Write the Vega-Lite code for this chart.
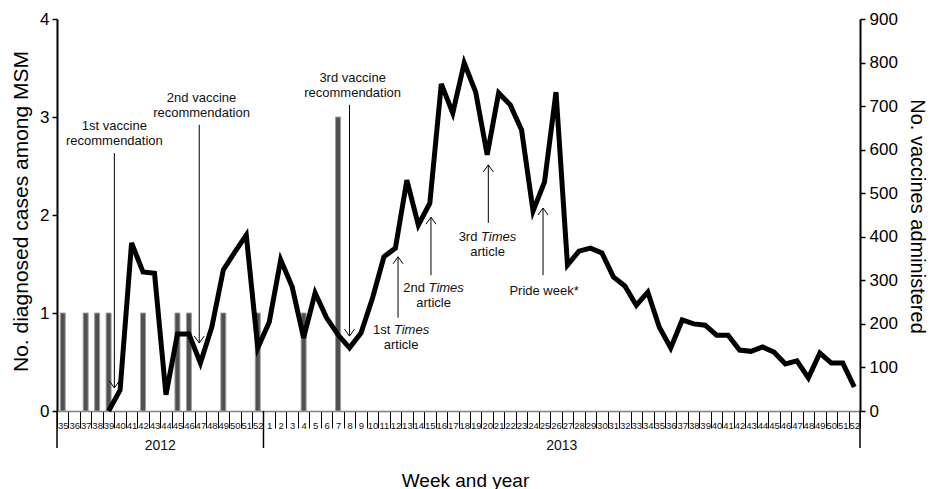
{
"$schema": "https://vega.github.io/schema/vega-lite/v6.json",
"width": 803, "height": 392,
"autosize": "none",
"padding": {"left": 57, "top": 19, "right": 70, "bottom": 78},
"background": "white",
"config": {"view": {"stroke": null}, "font": "Liberation Sans", "axis": {"grid": false}},
"data": {"values": [
{"wk":"2012-35","cases":1,"vaccines":null},
{"wk":"2012-36","cases":0,"vaccines":null},
{"wk":"2012-37","cases":1,"vaccines":null},
{"wk":"2012-38","cases":1,"vaccines":null},
{"wk":"2012-39","cases":1,"vaccines":0},
{"wk":"2012-40","cases":0,"vaccines":48},
{"wk":"2012-41","cases":0,"vaccines":386},
{"wk":"2012-42","cases":1,"vaccines":319},
{"wk":"2012-43","cases":0,"vaccines":316},
{"wk":"2012-44","cases":0,"vaccines":37},
{"wk":"2012-45","cases":1,"vaccines":177},
{"wk":"2012-46","cases":1,"vaccines":177},
{"wk":"2012-47","cases":0,"vaccines":110},
{"wk":"2012-48","cases":0,"vaccines":193},
{"wk":"2012-49","cases":1,"vaccines":324},
{"wk":"2012-50","cases":0,"vaccines":365},
{"wk":"2012-51","cases":0,"vaccines":404},
{"wk":"2012-52","cases":1,"vaccines":145},
{"wk":"2013-01","cases":0,"vaccines":204},
{"wk":"2013-02","cases":0,"vaccines":347},
{"wk":"2013-03","cases":0,"vaccines":285},
{"wk":"2013-04","cases":1,"vaccines":168},
{"wk":"2013-05","cases":0,"vaccines":271},
{"wk":"2013-06","cases":0,"vaccines":214},
{"wk":"2013-07","cases":3,"vaccines":175},
{"wk":"2013-08","cases":0,"vaccines":145},
{"wk":"2013-09","cases":0,"vaccines":179},
{"wk":"2013-10","cases":0,"vaccines":259},
{"wk":"2013-11","cases":0,"vaccines":354},
{"wk":"2013-12","cases":0,"vaccines":374},
{"wk":"2013-13","cases":0,"vaccines":530},
{"wk":"2013-14","cases":0,"vaccines":427},
{"wk":"2013-15","cases":0,"vaccines":477},
{"wk":"2013-16","cases":0,"vaccines":751},
{"wk":"2013-17","cases":0,"vaccines":684},
{"wk":"2013-18","cases":0,"vaccines":799},
{"wk":"2013-19","cases":0,"vaccines":732},
{"wk":"2013-20","cases":0,"vaccines":588},
{"wk":"2013-21","cases":0,"vaccines":730},
{"wk":"2013-22","cases":0,"vaccines":703},
{"wk":"2013-23","cases":0,"vaccines":645},
{"wk":"2013-24","cases":0,"vaccines":459},
{"wk":"2013-25","cases":0,"vaccines":526},
{"wk":"2013-26","cases":0,"vaccines":732},
{"wk":"2013-27","cases":0,"vaccines":335},
{"wk":"2013-28","cases":0,"vaccines":367},
{"wk":"2013-29","cases":0,"vaccines":374},
{"wk":"2013-30","cases":0,"vaccines":363},
{"wk":"2013-31","cases":0,"vaccines":308},
{"wk":"2013-32","cases":0,"vaccines":287},
{"wk":"2013-33","cases":0,"vaccines":243},
{"wk":"2013-34","cases":0,"vaccines":273},
{"wk":"2013-35","cases":0,"vaccines":193},
{"wk":"2013-36","cases":0,"vaccines":145},
{"wk":"2013-37","cases":0,"vaccines":209},
{"wk":"2013-38","cases":0,"vaccines":200},
{"wk":"2013-39","cases":0,"vaccines":197},
{"wk":"2013-40","cases":0,"vaccines":174},
{"wk":"2013-41","cases":0,"vaccines":174},
{"wk":"2013-42","cases":0,"vaccines":140},
{"wk":"2013-43","cases":0,"vaccines":137},
{"wk":"2013-44","cases":0,"vaccines":147},
{"wk":"2013-45","cases":0,"vaccines":135},
{"wk":"2013-46","cases":0,"vaccines":108},
{"wk":"2013-47","cases":0,"vaccines":115},
{"wk":"2013-48","cases":0,"vaccines":76},
{"wk":"2013-49","cases":0,"vaccines":133},
{"wk":"2013-50","cases":0,"vaccines":110},
{"wk":"2013-51","cases":0,"vaccines":110},
{"wk":"2013-52","cases":0,"vaccines":55}
]},
"encoding": {
  "x": {"field": "wk", "type": "ordinal",
    "scale": {"type": "band", "paddingInner": 0, "paddingOuter": 0,
      "domain": ["2012-35","2012-36","2012-37","2012-38","2012-39","2012-40","2012-41","2012-42","2012-43","2012-44","2012-45","2012-46","2012-47","2012-48","2012-49","2012-50","2012-51","2012-52","2013-01","2013-02","2013-03","2013-04","2013-05","2013-06","2013-07","2013-08","2013-09","2013-10","2013-11","2013-12","2013-13","2013-14","2013-15","2013-16","2013-17","2013-18","2013-19","2013-20","2013-21","2013-22","2013-23","2013-24","2013-25","2013-26","2013-27","2013-28","2013-29","2013-30","2013-31","2013-32","2013-33","2013-34","2013-35","2013-36","2013-37","2013-38","2013-39","2013-40","2013-41","2013-42","2013-43","2013-44","2013-45","2013-46","2013-47","2013-48","2013-49","2013-50","2013-51","2013-52"]},
    "axis": {"title": "Week and year", "orient": "bottom", "tickBand": "extent", "tickSize": 17, "tickColor": "#000", "tickWidth": 1,
      "domainColor": "#808080", "domainWidth": 1.5,
      "labelExpr": "isString(datum.value) && indexof(datum.value, '-') > 0 ? '' + toNumber(split(datum.value, '-')[1]) : ''",
      "labelFontSize": 9.5, "labelBaseline": "middle", "labelPadding": -3, "labelAngle": 0,
      "labelOverlap": false, "labelBound": false, "labelColor": "#111", "labelFlush": false,
      "titleFontSize": 19, "titleFontWeight": "normal", "titleColor": "#000",
      "titleX": 408, "titleY": 75, "titleBaseline": "alphabetic", "titleAlign": "center"}
  }
},
"layer": [
  {"layer": [
    {"transform": [{"filter": "datum.cases > 0"}],
     "mark": {"type": "bar", "width": 5, "color": "#505050", "stroke": "#a0a0a0", "strokeWidth": 1},
     "encoding": {"y": {"field": "cases", "type": "quantitative", "scale": {"domain": [0, 4]},
       "axis": {"orient": "left", "title": "No. diagnosed cases among MSM", "values": [0,1,2,3,4], "format": "d",
         "tickSize": 5, "tickColor": "#000", "tickWidth": 1.5, "domainColor": "#000", "domainWidth": 2,
         "labelFontSize": 17, "labelPadding": 3, "labelColor": "#000",
         "titleFontSize": 21, "titleFontWeight": "normal", "titleColor": "#000",
         "titleAngle": -90, "titleX": -30, "titleY": 192, "titleBaseline": "alphabetic", "titleAlign": "center"}}}},
    {"data": {"values": [{"wk": "2012-35"}, {"wk": "2013-01"}]},
     "mark": {"type": "rule", "color": "#000", "strokeWidth": 1.5},
     "encoding": {"x": {"field": "wk", "type": "ordinal", "bandPosition": 0},
       "y": {"datum": 0, "type": "quantitative", "scale": {"domain": [0, 4]}},
       "y2": {"datum": -0.378}}},
    {"data": {"values": [{"wk": "2013-52"}]},
     "mark": {"type": "rule", "color": "#000", "strokeWidth": 1.5},
     "encoding": {"x": {"field": "wk", "type": "ordinal", "bandPosition": 1},
       "y": {"datum": 0, "type": "quantitative", "scale": {"domain": [0, 4]}},
       "y2": {"datum": -0.378}}},
    {"data": {"values": [{"year": "2012", "wk": "2012-44"}, {"year": "2013", "wk": "2013-27"}]},
     "mark": {"type": "text", "fontSize": 14, "align": "center", "baseline": "alphabetic", "color": "#111"},
     "encoding": {"x": {"field": "wk", "type": "ordinal", "bandPosition": 0},
       "y": {"datum": -0.398, "type": "quantitative", "scale": {"domain": [0, 4]}},
       "text": {"field": "year"}}}
  ]},
  {"layer": [
    {"mark": {"type": "line", "color": "#000", "strokeWidth": 5, "strokeJoin": "miter", "strokeMiterLimit": 4},
     "encoding": {"x": {"field": "wk", "type": "ordinal", "bandPosition": 0.5},
       "y": {"field": "vaccines", "type": "quantitative", "scale": {"domain": [0, 900]},
         "axis": {"orient": "right", "title": "No. vaccines administered", "values": [0,100,200,300,400,500,600,700,800,900],
           "tickSize": 5, "tickColor": "#000", "tickWidth": 1.5, "domainColor": "#000", "domainWidth": 2,
           "labelFontSize": 17, "labelPadding": 4, "labelColor": "#000",
           "titleFontSize": 20, "titleFontWeight": "normal", "titleColor": "#000",
           "titleAngle": 90, "titleX": 50, "titleY": 197, "titleBaseline": "alphabetic", "titleAlign": "center"}}}},

    {"data": {"values": [{}]},
     "encoding": {"x": {"datum": "2012-40", "type": "ordinal", "bandPosition": 0}},
     "layer": [
      {"mark": {"type": "rule", "color": "#000", "strokeWidth": 1},
       "encoding": {"y": {"datum": 592, "type": "quantitative", "scale": {"domain": [0, 900]}}, "y2": {"datum": 53}}},
      {"mark": {"type": "point", "shape": "M-1,-1.4L0,0L1,-1.4", "filled": false, "stroke": "#000", "strokeWidth": 1, "size": 100, "opacity": 1},
       "encoding": {"y": {"datum": 53, "type": "quantitative", "scale": {"domain": [0, 900]}}}},
      {"mark": {"type": "text", "text": ["1st vaccine", "recommendation"], "fontSize": 13, "lineHeight": 15, "align": "center", "baseline": "alphabetic", "color": "#111"},
       "encoding": {"y": {"datum": 645, "type": "quantitative", "scale": {"domain": [0, 900]}}}}
     ]},

    {"data": {"values": [{}]},
     "encoding": {"x": {"datum": "2012-47", "type": "ordinal", "bandPosition": 0.4}},
     "layer": [
      {"mark": {"type": "rule", "color": "#000", "strokeWidth": 1},
       "encoding": {"y": {"datum": 657, "type": "quantitative", "scale": {"domain": [0, 900]}}, "y2": {"datum": 156}}},
      {"mark": {"type": "point", "shape": "M-1,-1.4L0,0L1,-1.4", "filled": false, "stroke": "#000", "strokeWidth": 1, "size": 100, "opacity": 1},
       "encoding": {"y": {"datum": 156, "type": "quantitative", "scale": {"domain": [0, 900]}}}},
      {"mark": {"type": "text", "text": ["2nd vaccine", "recommendation"], "fontSize": 13, "lineHeight": 15, "align": "center", "baseline": "alphabetic", "color": "#111"},
       "encoding": {"x": {"datum": "2012-47", "type": "ordinal", "bandPosition": 0.6},
         "y": {"datum": 709, "type": "quantitative", "scale": {"domain": [0, 900]}}}}
     ]},

    {"data": {"values": [{}]},
     "encoding": {"x": {"datum": "2013-08", "type": "ordinal", "bandPosition": 0.5}},
     "layer": [
      {"mark": {"type": "rule", "color": "#000", "strokeWidth": 1},
       "encoding": {"y": {"datum": 703, "type": "quantitative", "scale": {"domain": [0, 900]}}, "y2": {"datum": 172}}},
      {"mark": {"type": "point", "shape": "M-1,-1.4L0,0L1,-1.4", "filled": false, "stroke": "#000", "strokeWidth": 1, "size": 100, "opacity": 1},
       "encoding": {"y": {"datum": 172, "type": "quantitative", "scale": {"domain": [0, 900]}}}},
      {"mark": {"type": "text", "text": ["3rd vaccine", "recommendation"], "fontSize": 13, "lineHeight": 15, "align": "center", "baseline": "alphabetic", "color": "#111"},
       "encoding": {"x": {"datum": "2013-08", "type": "ordinal", "bandPosition": 0.77},
         "y": {"datum": 755, "type": "quantitative", "scale": {"domain": [0, 900]}}}}
     ]},

    {"data": {"values": [{}]},
     "encoding": {"x": {"datum": "2013-12", "type": "ordinal", "bandPosition": 0.73}},
     "layer": [
      {"mark": {"type": "rule", "color": "#000", "strokeWidth": 1},
       "encoding": {"y": {"datum": 214, "type": "quantitative", "scale": {"domain": [0, 900]}}, "y2": {"datum": 354}}},
      {"mark": {"type": "point", "shape": "M-1,1.4L0,0L1,1.4", "filled": false, "stroke": "#000", "strokeWidth": 1, "size": 100, "opacity": 1},
       "encoding": {"y": {"datum": 354, "type": "quantitative", "scale": {"domain": [0, 900]}}}}
     ]},
    {"data": {"values": [{}]},
     "encoding": {"x": {"datum": "2013-13", "type": "ordinal", "bandPosition": 0}},
     "layer": [
      {"mark": {"type": "text", "text": "1st", "fontSize": 13, "align": "right", "dx": -10.85, "baseline": "alphabetic", "color": "#111"},
       "encoding": {"y": {"datum": 177, "type": "quantitative", "scale": {"domain": [0, 900]}}}},
      {"mark": {"type": "text", "text": "Times", "fontStyle": "italic", "fontSize": 13, "align": "left", "dx": -7.25, "baseline": "alphabetic", "color": "#111"},
       "encoding": {"y": {"datum": 177, "type": "quantitative", "scale": {"domain": [0, 900]}}}},
      {"mark": {"type": "text", "text": "article", "fontSize": 13, "align": "center", "baseline": "alphabetic", "color": "#111"},
       "encoding": {"y": {"datum": 142, "type": "quantitative", "scale": {"domain": [0, 900]}}}}
     ]},

    {"data": {"values": [{}]},
     "encoding": {"x": {"datum": "2013-15", "type": "ordinal", "bandPosition": 0.6}},
     "layer": [
      {"mark": {"type": "rule", "color": "#000", "strokeWidth": 1},
       "encoding": {"y": {"datum": 312, "type": "quantitative", "scale": {"domain": [0, 900]}}, "y2": {"datum": 445}}},
      {"mark": {"type": "point", "shape": "M-1,1.4L0,0L1,1.4", "filled": false, "stroke": "#000", "strokeWidth": 1, "size": 100, "opacity": 1},
       "encoding": {"y": {"datum": 445, "type": "quantitative", "scale": {"domain": [0, 900]}}}}
     ]},
    {"data": {"values": [{}]},
     "encoding": {"x": {"datum": "2013-15", "type": "ordinal", "bandPosition": 0.83}},
     "layer": [
      {"mark": {"type": "text", "text": "2nd", "fontSize": 13, "align": "right", "dx": -8.65, "baseline": "alphabetic", "color": "#111"},
       "encoding": {"y": {"datum": 273, "type": "quantitative", "scale": {"domain": [0, 900]}}}},
      {"mark": {"type": "text", "text": "Times", "fontStyle": "italic", "fontSize": 13, "align": "left", "dx": -5.05, "baseline": "alphabetic", "color": "#111"},
       "encoding": {"y": {"datum": 273, "type": "quantitative", "scale": {"domain": [0, 900]}}}},
      {"mark": {"type": "text", "text": "article", "fontSize": 13, "align": "center", "baseline": "alphabetic", "color": "#111"},
       "encoding": {"y": {"datum": 239, "type": "quantitative", "scale": {"domain": [0, 900]}}}}
     ]},

    {"data": {"values": [{}]},
     "encoding": {"x": {"datum": "2013-20", "type": "ordinal", "bandPosition": 0.6}},
     "layer": [
      {"mark": {"type": "rule", "color": "#000", "strokeWidth": 1},
       "encoding": {"y": {"datum": 432, "type": "quantitative", "scale": {"domain": [0, 900]}}, "y2": {"datum": 565}}},
      {"mark": {"type": "point", "shape": "M-1,1.4L0,0L1,1.4", "filled": false, "stroke": "#000", "strokeWidth": 1, "size": 100, "opacity": 1},
       "encoding": {"y": {"datum": 565, "type": "quantitative", "scale": {"domain": [0, 900]}}}}
     ]},
    {"data": {"values": [{}]},
     "encoding": {"x": {"datum": "2013-20", "type": "ordinal", "bandPosition": 0.53}},
     "layer": [
      {"mark": {"type": "text", "text": "3rd", "fontSize": 13, "align": "right", "dx": -10.1, "baseline": "alphabetic", "color": "#111"},
       "encoding": {"y": {"datum": 390, "type": "quantitative", "scale": {"domain": [0, 900]}}}},
      {"mark": {"type": "text", "text": "Times", "fontStyle": "italic", "fontSize": 13, "align": "left", "dx": -6.5, "baseline": "alphabetic", "color": "#111"},
       "encoding": {"y": {"datum": 390, "type": "quantitative", "scale": {"domain": [0, 900]}}}},
      {"mark": {"type": "text", "text": "article", "fontSize": 13, "align": "center", "baseline": "alphabetic", "color": "#111"},
       "encoding": {"y": {"datum": 356, "type": "quantitative", "scale": {"domain": [0, 900]}}}}
     ]},

    {"data": {"values": [{}]},
     "encoding": {"x": {"datum": "2013-25", "type": "ordinal", "bandPosition": 0.37}},
     "layer": [
      {"mark": {"type": "rule", "color": "#000", "strokeWidth": 1},
       "encoding": {"y": {"datum": 312, "type": "quantitative", "scale": {"domain": [0, 900]}}, "y2": {"datum": 466}}},
      {"mark": {"type": "point", "shape": "M-1,1.4L0,0L1,1.4", "filled": false, "stroke": "#000", "strokeWidth": 1, "size": 100, "opacity": 1},
       "encoding": {"y": {"datum": 466, "type": "quantitative", "scale": {"domain": [0, 900]}}}},
      {"mark": {"type": "text", "text": "Pride week*", "fontSize": 13, "align": "center", "baseline": "alphabetic", "color": "#111"},
       "encoding": {"x": {"datum": "2013-25", "type": "ordinal", "bandPosition": 0.46},
         "y": {"datum": 266, "type": "quantitative", "scale": {"domain": [0, 900]}}}}
     ]}
  ]}
],
"resolve": {"scale": {"y": "independent"}}
}
